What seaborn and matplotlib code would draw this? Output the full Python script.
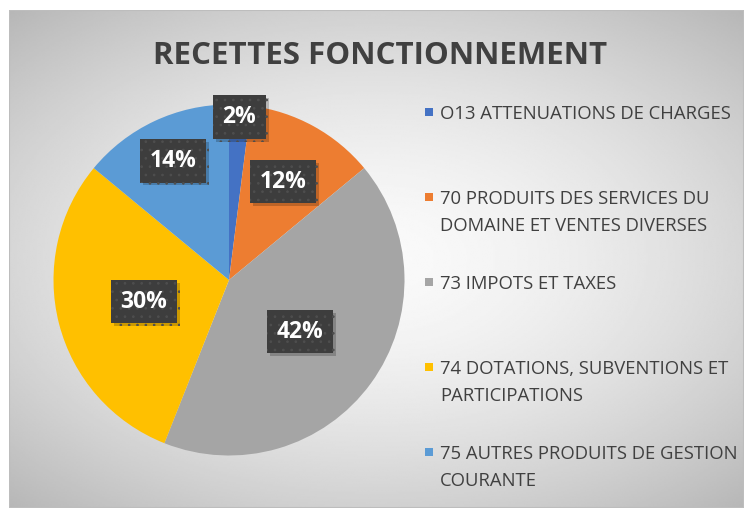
import numpy as np
import matplotlib
matplotlib.use("Agg")
import matplotlib.pyplot as plt
import matplotlib.patheffects as pe
from matplotlib.patches import Rectangle
import seaborn as sns

# Data
categories = [
    "O13 ATTENUATIONS DE CHARGES",
    "70 PRODUITS DES SERVICES DU\nDOMAINE ET VENTES DIVERSES",
    "73 IMPOTS ET TAXES",
    "74 DOTATIONS, SUBVENTIONS ET\nPARTICIPATIONS",
    "75 AUTRES PRODUITS DE GESTION\nCOURANTE",
]
shares = [2, 12, 42, 30, 14]
colors = ["#4472C4", "#ED7D31", "#A5A5A5", "#FFC000", "#5B9BD5"]
title = "RECETTES FONCTIONNEMENT"

# label distance from centre (fraction of radius), Excel "best fit" look
label_dist = [0.93, 0.64, 0.50, 0.50, 0.75]

sns.set_theme(style="white")
plt.rcParams["font.family"] = ["Open Sans", "DejaVu Sans"]
plt.rcParams["hatch.linewidth"] = 0.7

W, H = 744, 508
fig = plt.figure(figsize=(W / 100, H / 100), dpi=100)
fig.patch.set_facecolor("white")

# chart area background: soft radial gradient, grey at the edges
bg = fig.add_axes([9 / W, 0, (W - 9) / W, (H - 10) / H], zorder=-5)
yy, xx = np.mgrid[-1:1:300j, -1:1:400j]
rr = np.sqrt((xx * 1.0) ** 2 + (yy * 1.1) ** 2)
grad = 0.98 - 0.14 * np.clip(rr, 0, 1.5) ** 1.6
bg.imshow(grad, cmap="gray", vmin=0, vmax=1, aspect="auto",
          extent=[0, 1, 0, 1], interpolation="bilinear")
bg.add_patch(Rectangle((0, 0), 1, 1, transform=bg.transAxes, fill=False,
                       edgecolor="#bdbdbd", lw=1.5))
bg.set_axis_off()

# pie
cx, cy, r = 229, 280, 175.5
ax = fig.add_axes([(cx - r) / W, (H - cy - r) / H, 2 * r / W, 2 * r / H])
wedges, _ = ax.pie(shares, colors=colors, startangle=90, counterclock=False,
                   radius=1, wedgeprops=dict(linewidth=0))
ax.set_xlim(-1, 1)
ax.set_ylim(-1, 1)
ax.set_axis_off()

for w, v, d in zip(wedges, shares, label_dist):
    ang = np.deg2rad((w.theta1 + w.theta2) / 2)
    t = ax.text(d * np.cos(ang), d * np.sin(ang), f"{v}%", ha="center",
                va="center", color="white", fontsize=16.5, fontweight="bold",
                bbox=dict(boxstyle="square,pad=0.42", facecolor="#3d3d3d",
                          edgecolor="#4e4e4e", linewidth=0, hatch=".."))
    fig.canvas.draw()
    t.get_bbox_patch().set_path_effects(
        [pe.SimplePatchShadow(offset=(2, -2), shadow_rgbFace="#000000", alpha=0.2),
         pe.Normal()])

# title
fig.text(380 / W, 1 - 56 / H, title, ha="center", va="center",
         fontsize=22.5, fontweight="bold", color="#404040")

# legend (entries top aligned in equal slots, like Excel)
slot = 85
top = 112
for i, (lab, col) in enumerate(zip(categories, colors)):
    yc = top + i * slot
    fig.patches.append(Rectangle((425 / W, 1 - (yc + 4) / H), 8 / W, 8 / H,
                                 transform=fig.transFigure, facecolor=col,
                                 edgecolor="none"))
    fig.text(440 / W, 1 - (yc - 7) / H, lab, ha="left", va="top",
             fontsize=13.3, color="#404040", linespacing=1.65)

fig.savefig("out.png", dpi=100)
